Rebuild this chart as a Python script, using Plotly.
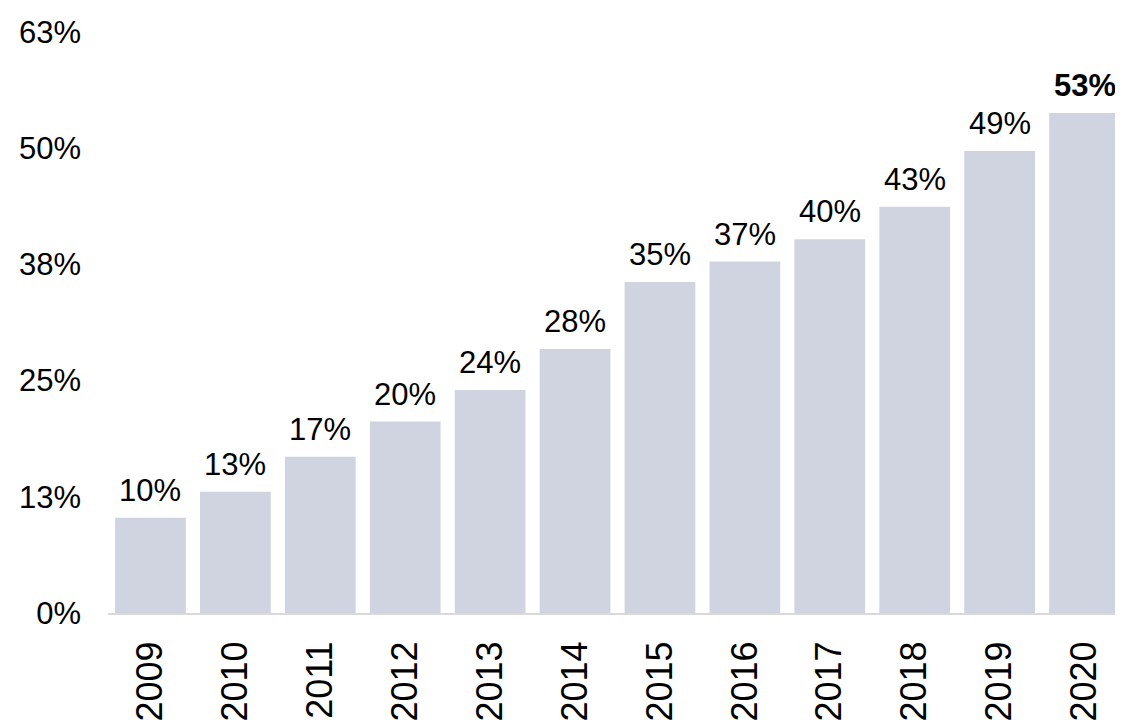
import plotly.graph_objects as go

years = ["2009", "2010", "2011", "2012", "2013", "2014", "2015", "2016", "2017", "2018", "2019", "2020"]
values = [10.25, 13.05, 16.8, 20.6, 24.0, 28.4, 35.6, 37.8, 40.2, 43.7, 49.7, 53.8]
labels = ["10%", "13%", "17%", "20%", "24%", "28%", "35%", "37%", "40%", "43%", "49%", "<b>53%</b>"]
tick_vals = [0, 12.5, 25, 37.5, 50, 62.5]
tick_text = ["0%", "13%", "25%", "38%", "50%", "63%"]

FONT = "Liberation Sans, Arial, sans-serif"

fig = go.Figure(
    go.Bar(
        x=years,
        y=values,
        marker=dict(color="#D0D4E1", line=dict(width=0)),
        hoverinfo="skip",
    )
)

for i, (v, lab) in enumerate(zip(values, labels)):
    fig.add_annotation(
        x=i, y=v, xref="x", yref="y", text=lab, showarrow=False,
        xanchor="center", yanchor="bottom", yshift=8,
        font=dict(family=FONT, size=31, color="#000000"),
    )

fig.update_layout(
    width=1123,
    height=720,
    margin=dict(l=100, r=4, t=24, b=115),
    paper_bgcolor="white",
    plot_bgcolor="white",
    bargap=0.167,
    showlegend=False,
    font=dict(family=FONT, color="#000000"),
    xaxis=dict(
        type="category",
        range=[-0.5, 11.5],
        tickangle=-90,
        tickfont=dict(family=FONT, size=36, color="#000000"),
        showline=True,
        linecolor="#D9D9D9",
        linewidth=2,
        ticks="",
        showgrid=False,
        ticklabelstandoff=12,
        automargin=False,
        fixedrange=True,
    ),
    yaxis=dict(
        range=[0, 62.5],
        tickvals=tick_vals,
        ticktext=tick_text,
        tickfont=dict(family=FONT, size=31, color="#000000"),
        showgrid=False,
        zeroline=False,
        showline=False,
        ticks="",
        ticklabelstandoff=26,
        automargin=False,
        fixedrange=True,
    ),
)

fig.write_html("out.html")
